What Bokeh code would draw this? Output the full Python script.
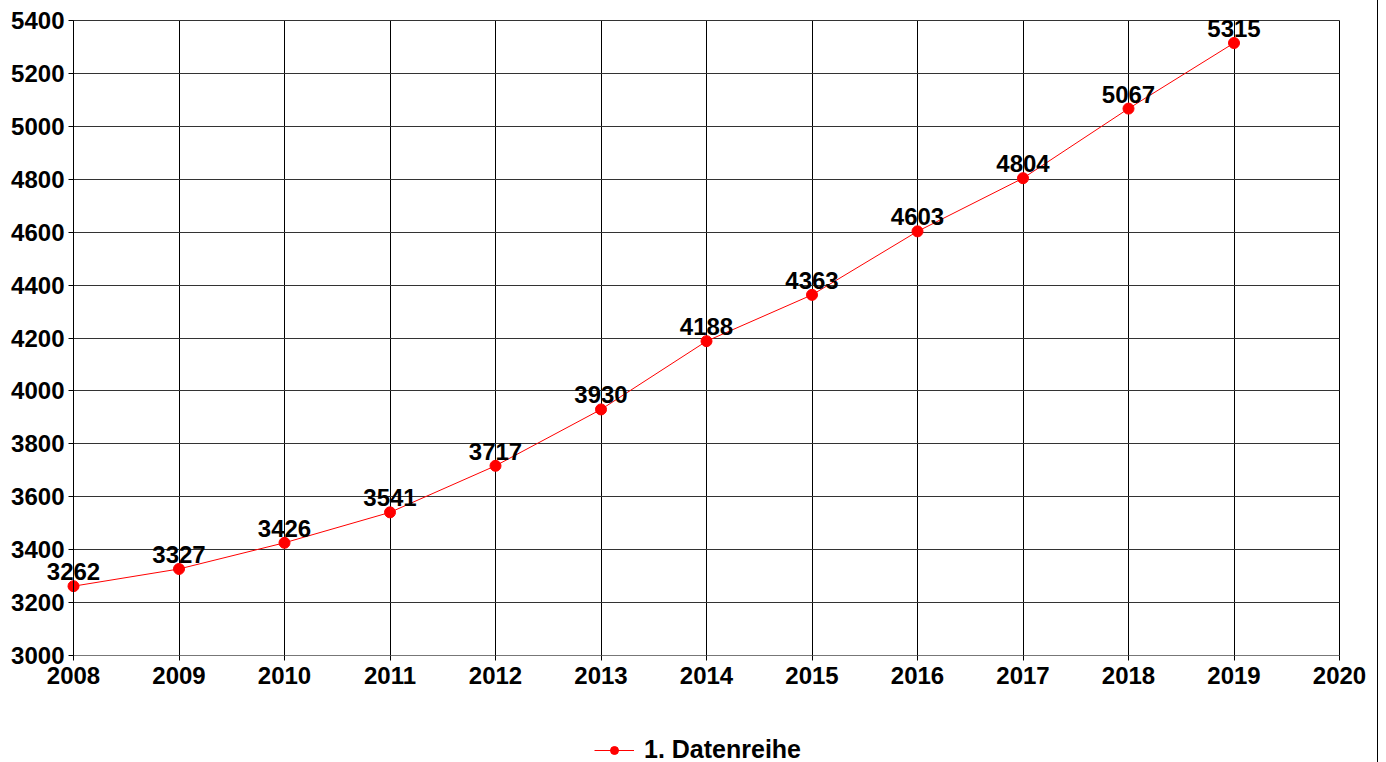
from bokeh.plotting import figure
from bokeh.models import ColumnDataSource, Legend, LegendItem, FixedTicker, Range1d, LabelSet
from bokeh.core.properties import value
from bokeh.embed import file_html
from bokeh.resources import INLINE

years = [2008, 2009, 2010, 2011, 2012, 2013, 2014, 2015, 2016, 2017, 2018, 2019]
counts = [3262, 3327, 3426, 3541, 3717, 3930, 4188, 4363, 4603, 4804, 5067, 5315]
x_ticks = list(range(2008, 2021))
y_ticks = list(range(3000, 5401, 200))
series_name = "1. Datenreihe"

FONT = "Liberation Sans"

# layout (pixels) of the axis box inside the page
W, H = 1378, 762
PX_L, PX_R, PX_T, PX_B = 73, 1339, 20, 655
X0, X1 = x_ticks[0], x_ticks[-1]
Y0, Y1 = y_ticks[0], y_ticks[-1]
sx = (X1 - X0) / (PX_R - PX_L)
sy = (Y1 - Y0) / (PX_B - PX_T)

src = ColumnDataSource(dict(x=years, y=counts, lbl=[str(v) for v in counts]))

p = figure(width=W, height=H, output_backend="svg", toolbar_location=None,
           x_range=Range1d(X0 - PX_L * sx, X1 + (W - PX_R) * sx),
           y_range=Range1d(Y0 - (H - PX_B) * sy, Y1 + PX_T * sy),
           min_border_left=0, min_border_top=0, min_border_right=0, min_border_bottom=0)
p.outline_line_color = None
p.background_fill_color = "white"
p.border_fill_color = "white"
p.styles = {"border-right": "1px solid black"}

for ax in (p.xaxis[0], p.yaxis[0]):
    ax.major_label_text_font = FONT
    ax.major_label_text_font_style = "bold"
    ax.major_label_text_font_size = "24px"
    ax.major_label_text_color = "black"
    ax.major_tick_out = 5
    ax.major_tick_in = 0
    ax.minor_tick_out = 0
    ax.minor_tick_in = 0
    ax.major_tick_line_color = "black"

p.xaxis.ticker = FixedTicker(ticks=x_ticks)
p.yaxis.ticker = FixedTicker(ticks=y_ticks)
p.xaxis.fixed_location = Y0
p.yaxis.fixed_location = X0
p.xaxis.bounds = (X0, X1)
p.yaxis.bounds = (Y0, Y1)
p.xaxis.major_label_standoff = 6
p.yaxis.major_label_standoff = 4
p.xaxis.axis_line_color = "#777777"
p.yaxis.axis_line_color = "black"

p.xgrid.ticker = FixedTicker(ticks=x_ticks)
p.ygrid.ticker = FixedTicker(ticks=y_ticks)
p.xgrid.bounds = (X0, X1)
p.ygrid.bounds = (Y0, Y1)
p.xgrid.cross_bounds = (Y0, Y1)
p.ygrid.cross_bounds = (X0, X1)
p.xgrid.grid_line_color = "black"
p.ygrid.grid_line_color = "#333333"
p.xgrid.grid_line_width = 1
p.ygrid.grid_line_width = 1

ln = p.line("x", "y", source=src, line_color="red", line_width=1)
sc = p.scatter("x", "y", source=src, size=11, fill_color="red", line_color="red")

labels = LabelSet(x="x", y="y", text="lbl", source=src, text_align="center",
                  text_baseline="alphabetic", y_offset=6, text_font=value(FONT),
                  text_font_style="bold", text_font_size="24px", text_color="black")
p.add_layout(labels)

legend = Legend(items=[LegendItem(label=series_name, renderers=[ln, sc])],
                orientation="horizontal", location=(594, -2),
                label_text_font=FONT, label_text_font_style="bold", label_text_font_size="25px",
                label_text_color="black", border_line_color=None, background_fill_alpha=0,
                glyph_width=40, margin=0, padding=0, label_standoff=10)
p.add_layout(legend, "center")

open("out.html", "w").write(file_html(p, INLINE))
